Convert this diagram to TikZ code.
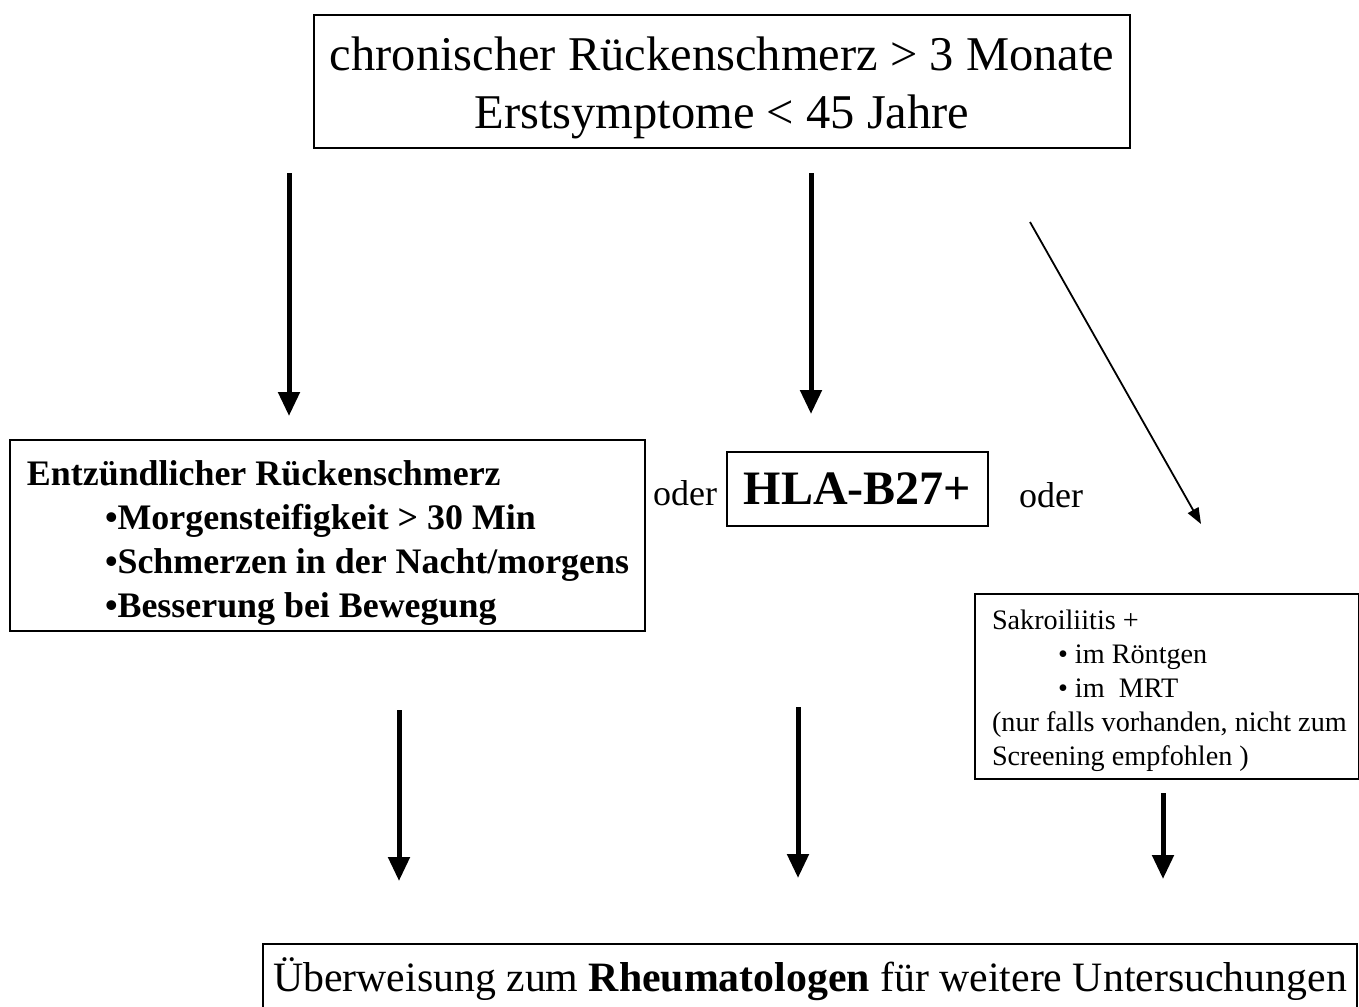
\documentclass[tikz,border=0pt]{standalone}
\usepackage{fontspec}
\setmainfont{Liberation Serif}
\usetikzlibrary{arrows.meta}
\tikzset{
  box/.style={draw, line width=1.6pt, rectangle, inner sep=0pt},
  bigarrow/.style={line width=5pt, -{Triangle[length=24pt,width=21pt]}},
  thinarrow/.style={line width=1.8pt, -{Triangle[length=16pt,width=12pt]}},
  odertext/.style={font=\fontsize{36}{40}\selectfont},
}
\begin{document}
\begin{tikzpicture}[x=1pt, y=-1pt]
\useasboundingbox[fill=white] (0,0) rectangle (1359,1006);
% boxes
\node[box, minimum width=816pt, minimum height=133pt, align=center,
  font=\fontsize{48.5}{58}\selectfont] (start) at (722,81.5)
  {\rule{0pt}{46pt}chronischer Rückenschmerz > 3 Monate\\Erstsymptome < 45 Jahre};
\node[box, minimum width=635pt, minimum height=191pt, text width=601pt, align=flush left,
  font=\fontsize{35.9}{44}\selectfont\bfseries] (entz) at (327.5,535.5)
  {\rule{0pt}{40pt}\mbox{Entzündlicher Rückenschmerz}\\
   \hspace*{78pt}\mbox{•Morgensteifigkeit > 30 Min}\\
   \hspace*{78pt}\mbox{•Schmerzen in der Nacht/morgens}\\
   \hspace*{78pt}\mbox{•Besserung bei Bewegung}};
\node[box, minimum width=261pt, minimum height=74pt,
  font=\fontsize{48}{52}\selectfont\bfseries] (hla) at (857.5,489) {\raisebox{-3pt}{HLA-B27+}};
\node[box, minimum width=384pt, minimum height=185pt, text width=350pt, align=flush left,
  font=\fontsize{28.2}{34}\selectfont] (sakro) at (1167,686.5)
  {\rule{0pt}{28pt}Sakroiliitis +\\
   \hspace*{66pt}• im Röntgen\\
   \hspace*{66pt}• im\ \ MRT\\
   \mbox{(nur falls vorhanden, nicht zum}\\
   Screening empfohlen )};
\node[box, minimum width=1094pt, minimum height=70pt,
  font=\fontsize{41.8}{48}\selectfont] (ueber) at (810,979)
  {Überweisung zum \textbf{Rheumatologen} für weitere Untersuchungen};
% oder
\node[odertext] (oder1) at (685,493) {oder};
\node[odertext] (oder2) at (1051,495) {oder};
% arrow ends
\coordinate (a1s) at (289,173);  \coordinate (a1e) at (289,416);
\coordinate (a2s) at (811,173);  \coordinate (a2e) at (811,414);
\coordinate (a3s) at (1030,222); \coordinate (a3e) at (1201,524);
\coordinate (b1s) at (399,710);  \coordinate (b1e) at (399,881);
\coordinate (b2s) at (798,707);  \coordinate (b2e) at (798,878);
\coordinate (b3s) at (1163,793); \coordinate (b3e) at (1163,879);
\draw[bigarrow] (a1s) -- (a1e);
\draw[bigarrow] (a2s) -- (a2e);
\draw[thinarrow] (a3s) -- (a3e);
\draw[bigarrow] (b1s) -- (b1e);
\draw[bigarrow] (b2s) -- (b2e);
\draw[bigarrow] (b3s) -- (b3e);
\end{tikzpicture}
\end{document}
